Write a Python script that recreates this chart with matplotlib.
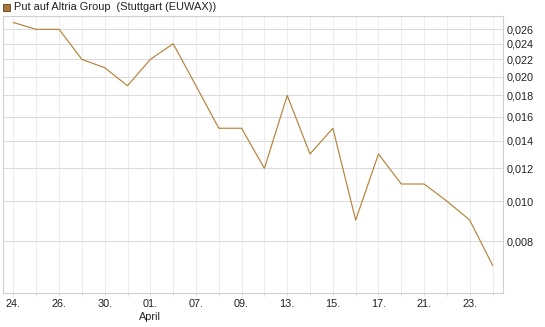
import numpy as np
import matplotlib.pyplot as plt
from matplotlib.ticker import FixedLocator, FuncFormatter, NullLocator

plt.rcParams['font.family'] = ['Liberation Sans', 'DejaVu Sans']

# Werte (Kurs pro Handelstag)
values = [0.027, 0.026, 0.026, 0.022, 0.021, 0.019, 0.022, 0.024, 0.019, 0.015, 0.015,
          0.012, 0.018, 0.013, 0.015, 0.009, 0.013, 0.011, 0.011, 0.010, 0.009, 0.007]
x_labels = ['24.', '26.', '30.', '01.', '07.', '09.', '13.', '15.', '17.', '21.', '23.']
y_ticks = [0.008, 0.010, 0.012, 0.014, 0.016, 0.018, 0.020, 0.022, 0.024, 0.026]
title = 'Put auf Altria Group  (Stuttgart (EUWAX))'

line_color = '#b5833a'
x = np.arange(len(values))

fig = plt.figure(figsize=(5.45, 3.27), dpi=100)
ax = fig.add_axes([0.0046, 0.104, 0.918, 0.847])

ax.plot(x, values, color=line_color, linewidth=0.85, zorder=3)

ax.set_yscale('log')
ax.set_ylim(0.006, 0.028)
ax.set_xlim(-0.48, 21.45)

# Achsen / Gitter
ax.yaxis.set_major_locator(FixedLocator(y_ticks))
ax.yaxis.set_minor_locator(NullLocator())
ax.yaxis.set_major_formatter(FuncFormatter(lambda v, p: f'{v:.3f}'.replace('.', ',')))
ax.yaxis.tick_right()
ax.tick_params(axis='y', length=0, pad=3, labelsize=7.8, labelcolor='#222222')

ax.set_xticks(x)
ax.set_xticklabels([x_labels[i // 2] if i % 2 == 0 else '' for i in x])
ax.tick_params(axis='x', length=2, color='#dddddd', pad=2, labelsize=7.8, labelcolor='#222222')

for yv in y_ticks:
    ax.axhline(yv, color='#dcdcdc', linewidth=0.8, zorder=1)
for xv in x:
    ax.axvline(xv, color='#ededed', linewidth=0.8, zorder=0)

for s in ax.spines.values():
    s.set_color('#d0d0d0')
    s.set_linewidth(0.8)

# Monatsname unter dem 01.
ax.text(6, -0.068, 'April', transform=ax.get_xaxis_transform(), ha='center', va='top',
        fontsize=7.8, color='#222222')

# Legende oben links
fig.patches.append(plt.Rectangle((3 / 545, 1 - 11 / 327), 7 / 545, 7 / 327, transform=fig.transFigure,
                                 facecolor='#a8773a', edgecolor='#5a3f1e', linewidth=0.6))
fig.text(14 / 545, 1 - 7 / 327, title, ha='left', va='center', fontsize=7.9, color='#222222')

fig.savefig('out.png', dpi=100)
